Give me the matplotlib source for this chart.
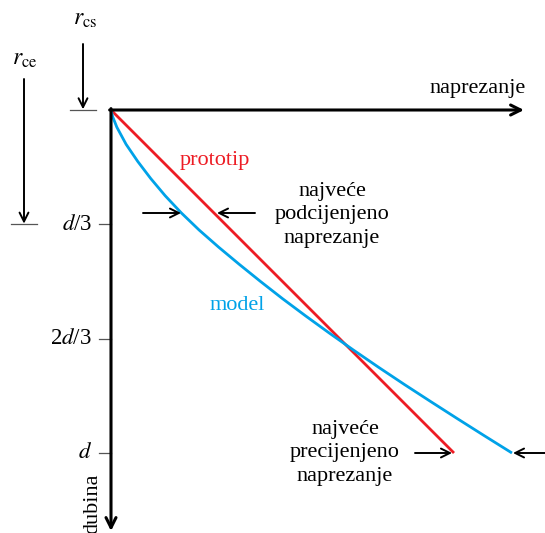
import matplotlib
matplotlib.use("Agg")
import matplotlib.pyplot as plt

plt.rcParams['font.family'] = ['Liberation Serif', 'DejaVu Serif']
plt.rcParams['mathtext.fontset'] = 'stix'

# depth in units of d, stress normalised so the prototype reaches 1 at depth d
prototype_depth = [0.0, 1.0]
prototype_stress = [0.0, 1.0]

model_depth = [0.0, 0.02, 0.05, 0.10, 0.15, 0.20, 0.25, 0.30, 0.35, 0.40, 0.45, 0.50,
               0.55, 0.60, 0.65, 0.70, 0.75, 0.80, 0.85, 0.90, 0.95, 1.0]
model_stress = [0.0, 0.005, 0.017, 0.044, 0.078, 0.116, 0.158, 0.205, 0.257, 0.314, 0.374, 0.436,
                0.500, 0.567, 0.636, 0.707, 0.780, 0.855, 0.932, 1.010, 1.089, 1.169]

tick_depths = [1 / 3, 2 / 3, 1.0]
tick_labels = ['$d$/3', '2$d$/3', '$d$']

RED = '#ED1C24'
BLUE = '#00A2E8'
FS = 16
S = 343.0  # pixels per unit


def px(x):
    return (x - 111) / S


def py(y):
    return (y - 110) / S


fig = plt.figure(figsize=(5.45, 5.33), dpi=100)
ax = fig.add_axes([0, 0, 1, 1])
ax.set_xlim(px(0), px(545))
ax.set_ylim(py(533), py(0))
ax.axis('off')

arrow = dict(arrowstyle='->', color='k', lw=1.4, shrinkA=0, shrinkB=0, mutation_scale=16)
axis_arrow = dict(arrow, lw=2.2, mutation_scale=18)

# axes
ax.annotate('', xy=(px(524), 0), xytext=(-0.004, 0), arrowprops=axis_arrow)
ax.annotate('', xy=(0, py(531)), xytext=(0, -0.004), arrowprops=axis_arrow)
ax.text(px(526), py(88), 'naprezanje', fontsize=FS, ha='right', va='center')
ax.text(px(93), py(474), 'dubina', fontsize=FS, rotation=90, ha='center', va='top')

# depth ticks
for d, lab in zip(tick_depths, tick_labels):
    ax.plot([px(99), 0], [d, d], color='#555555', lw=0.9)
    ax.text(px(92), d, lab, fontsize=FS + 0.5, ha='right', va='center')

# r_cs and r_ce markers
ax.plot([px(70), px(96)], [0, 0], color='#555555', lw=0.9)
ax.plot([px(11), px(37)], [1 / 3, 1 / 3], color='#555555', lw=0.9)
ax.annotate('', xy=(px(83), -0.002), xytext=(px(83), py(44)), arrowprops=arrow)
ax.annotate('', xy=(px(24), 1 / 3 - 0.002), xytext=(px(24), py(79)), arrowprops=arrow)
ax.text(px(85), py(20), r'$r_{\mathrm{cs}}$', fontsize=FS + 1, ha='center', va='center')
ax.text(px(25), py(60), r'$r_{\mathrm{ce}}$', fontsize=FS + 1, ha='center', va='center')

# curves
ax.plot(prototype_stress, prototype_depth, color=RED, lw=2.0, solid_capstyle='butt')
ax.plot(model_stress, model_depth, color=BLUE, lw=2.0, solid_capstyle='butt')
ax.text(px(215), py(160), 'prototip', color=RED, fontsize=FS, ha='center', va='center')
ax.text(px(237), py(305), 'model', color=BLUE, fontsize=FS, ha='center', va='center')

# underestimated stress
ax.annotate('', xy=(px(181), py(213)), xytext=(px(143), py(213)), arrowprops=arrow)
ax.annotate('', xy=(px(217), py(213)), xytext=(px(255), py(213)), arrowprops=arrow)
ax.text(px(332), py(215), 'najveće\npodcijenjeno\nnaprezanje', fontsize=FS,
        ha='center', va='center', linespacing=1.3)

# overestimated stress
ax.annotate('', xy=(px(452), py(453)), xytext=(px(415), py(453)), arrowprops=arrow)
ax.annotate('', xy=(px(513), py(453)), xytext=(px(548), py(453)), arrowprops=arrow)
ax.text(px(345), py(453), 'najveće\nprecijenjeno\nnaprezanje', fontsize=FS,
        ha='center', va='center', linespacing=1.3)

fig.savefig('out.png', dpi=100)
